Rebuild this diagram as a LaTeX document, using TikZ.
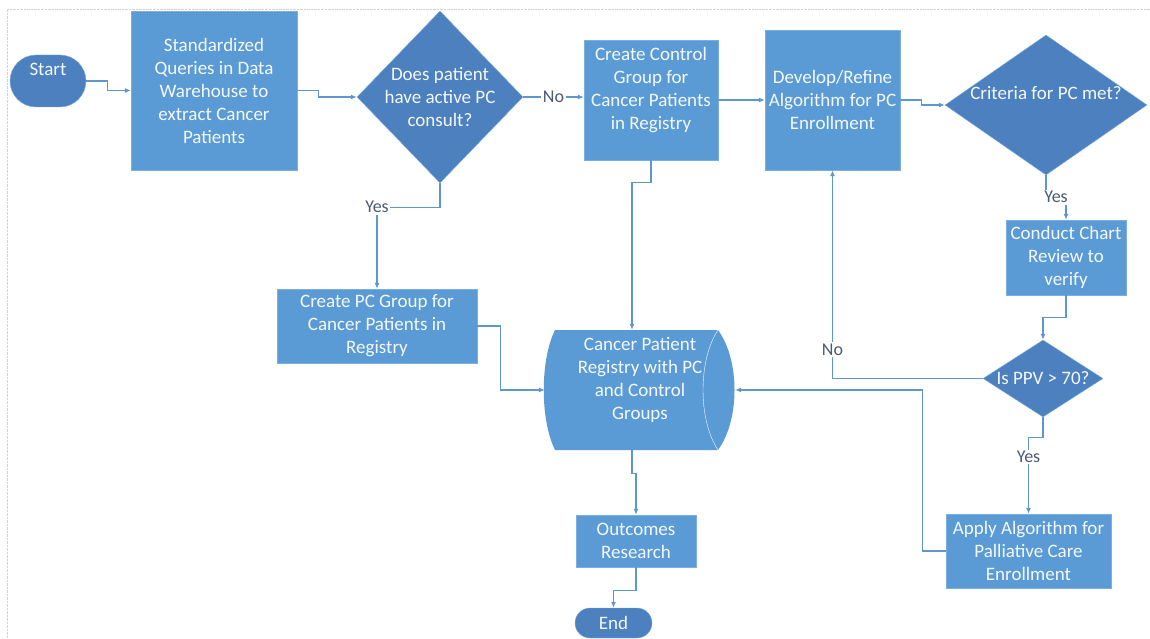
\documentclass[tikz,border=0pt]{standalone}
\usepackage{fontspec}
\setmainfont{Carlito}
\usepackage{tikz}
\usetikzlibrary{arrows.meta,calc,positioning,shapes.geometric}
\definecolor{boxblue}{HTML}{5B9BD5}
\definecolor{darkblue}{HTML}{4C80BE}
\definecolor{boxedge}{HTML}{7AAFE0}
\definecolor{boxtext}{HTML}{F4F8FC}
\definecolor{linecol}{HTML}{5E96D0}
\definecolor{lblcol}{HTML}{4A5B73}
\tikzset{
  every node/.style={font=\fontsize{19}{23}\selectfont},
  proc/.style={rectangle,fill=boxblue,draw=boxedge,thin,text=boxtext,align=center,inner sep=2pt},
  decision/.style={diamond,fill=darkblue,draw=boxedge,thin,inner sep=0pt},
  dtext/.style={text=boxtext,align=center,inner sep=0pt},
  term/.style={rectangle,fill=darkblue,draw=boxedge,thin,text=boxtext,align=center},
  flow/.style={draw=linecol,line width=1.1pt,-{Latex[length=6pt,width=5pt]}},
  lbl/.style={fill=white,text=lblcol,inner sep=1.5pt,font=\fontsize{18}{20}\selectfont},
  border/.style={densely dotted,gray!35,thin}
}

\begin{document}
\begin{tikzpicture}[x=1pt,y=-1pt]
  \useasboundingbox (0,0) rectangle (1150,639);
  \draw[border] (7,639) -- (7,9) -- (1150,9);

  % top row
  \node[term,minimum width=76,minimum height=52,rounded corners=26] (start) at (48,81) {Start\\~};
  \node[proc,minimum width=166,minimum height=159] (query) at (214,90.5)
    {Standardized\\Queries in Data\\Warehouse to\\extract Cancer\\Patients};
  \node[decision,minimum width=166,minimum height=172] (consult) at (440,97) {};
  \node[dtext] (consult-t) at (consult) {Does patient\\have active PC\\consult?};
  \node[proc,minimum width=134,minimum height=120] (control) at (651,100)
    {Create Control\\Group for\\Cancer Patients\\in Registry\\~};
  \node[proc,minimum width=135,minimum height=140] (develop) at (832.5,100)
    {Develop/Refine\\Algorithm for PC\\Enrollment};
  \node[decision,minimum width=202,minimum height=140] (crit) at (1046,105) {};
  \node[dtext,yshift=12] (crit-t) at (crit) {Criteria for PC met?};

  % right column
  \node[proc,minimum width=120,minimum height=75] (conduct) at (1066,257.5)
    {Conduct Chart\\Review to\\verify};
  \node[decision,minimum width=120,minimum height=77] (ppv) at (1043,378.5) {};
  \node[dtext] (ppv-t) at (ppv) {Is PPV > 70?};
  \node[proc,minimum width=165,minimum height=74] (apply) at (1028.5,551)
    {Apply Algorithm for\\Palliative Care\\Enrollment};

  % registry (stored data)
  \fill[boxblue] (555,330) -- (718,330) .. controls (740,360) and (740,420) .. (718,450)
    -- (555,450) .. controls (540,420) and (540,360) .. (555,330) -- cycle;
  \draw[boxtext!80,thin] (718,330) .. controls (698,360) and (698,420) .. (718,450);
  \node[dtext,minimum width=190,minimum height=120] (registry) at (640,390)
    {Cancer Patient\\Registry with PC\\and Control\\Groups\\~};

  % lower left
  \node[proc,minimum width=200,minimum height=74] (pcgroup) at (377,326)
    {Create PC Group for\\Cancer Patients in\\Registry};
  \node[proc,minimum width=120,minimum height=52] (outcomes) at (636,541)
    {Outcomes\\Research};
  \node[term,minimum width=77,minimum height=30,rounded corners=15] (end) at (613.5,623) {End};

  % connectors
  \draw[flow] (start.east) -- ++(21,0) |- (query.west);
  \draw[flow] (query.east) -- ++(21,0) |- (consult.west);
  \draw[flow] (consult.east) -- node[lbl] (no1) {No} (consult.east -| control.west);
  \draw[flow] (control.east) -- (develop.west);
  \draw[flow] (develop.east) -- ++(21,0) |- (crit.west);
  \draw[flow] (crit.south) -- ++(0,22) -| node[lbl,pos=0.25] (yes1) {Yes} (conduct.north);
  \draw[flow] (conduct.south) -- ++(0,22) -| (ppv.north);
  \draw[flow] (ppv.west) -| node[lbl,pos=0.57] (no2) {No} (develop.south);
  \draw[flow] (ppv.south) -- ++(0,20) -| node[lbl,pos=0.63] (yes2) {Yes} (apply.north);
  \draw[flow] (apply.west) -- ++(-23,0) |- (registry.east);
  \draw[flow] (consult.south) -- ++(0,24) -| node[lbl,pos=0.5] (yes3) {Yes} (pcgroup.north);
  \draw[flow] (pcgroup.east) -- ++(23,0) |- (registry.west);
  \draw[flow] (control.south) -- ++(0,22) -| ([xshift=-8]registry.north);
  \draw[flow] ([xshift=-8]registry.south) -- ++(0,23) -| (outcomes.north);
  \draw[flow] (outcomes.south) -- ++(0,23) -| (end.north);
\end{tikzpicture}
\end{document}
